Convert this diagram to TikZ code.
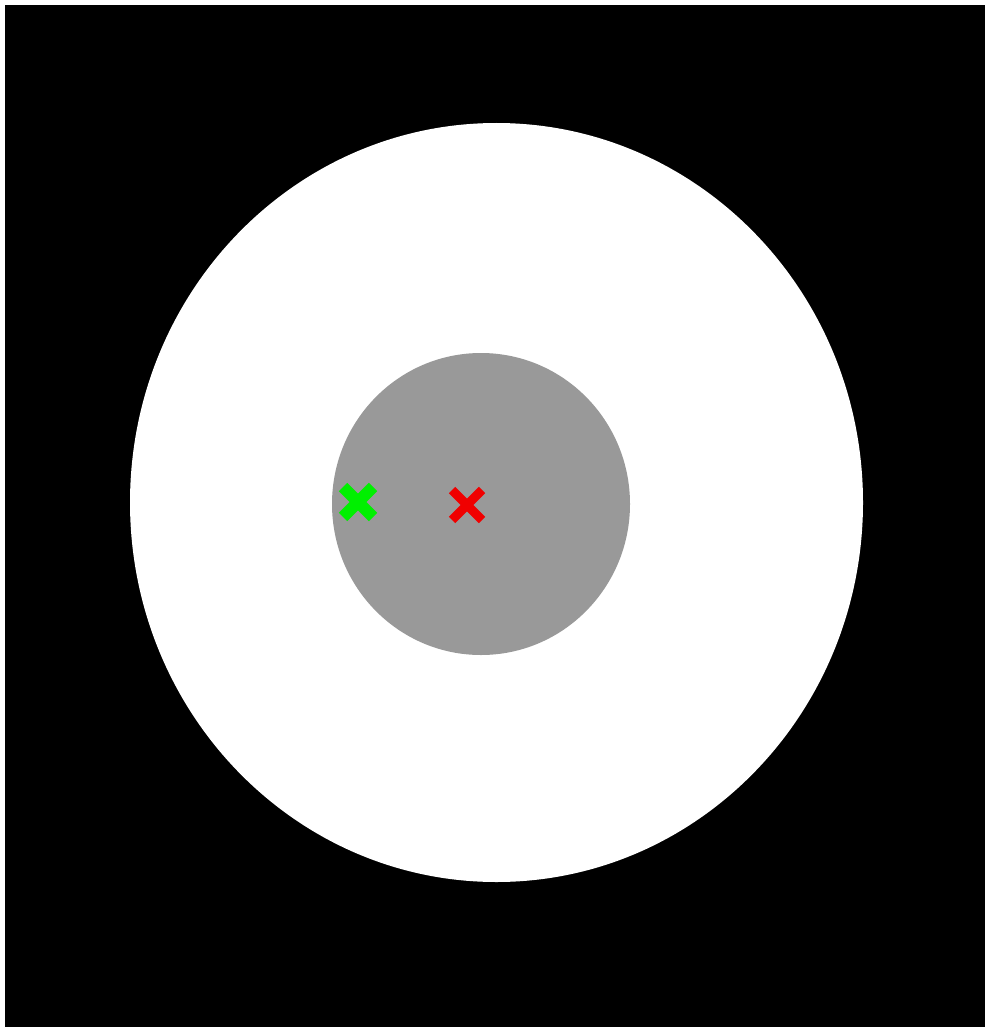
\documentclass[tikz,border=0pt]{standalone}
\usetikzlibrary{shapes.misc}
\definecolor{disk}{HTML}{999999}
\definecolor{mkgreen}{HTML}{00F000}
\definecolor{mkred}{HTML}{F00000}
\begin{document}
\begin{tikzpicture}[x=1pt,y=-1pt,
  mark/.style={cross out, draw=#1, line width=9pt, minimum size=21pt, inner sep=0pt}]
\useasboundingbox (0,0) rectangle (985,1027);
\fill[white] (0,0) rectangle (985,1027);
\fill[black] (5,5) rectangle (985,1027);
\fill[white] (496.5,502.5) ellipse [x radius=366.5, y radius=379.5];
\fill[disk] (481,504) ellipse [x radius=149, y radius=151];
\node[mark=mkgreen, line width=12pt, minimum size=18pt] (g) at (358,502) {};
\node[mark=mkred] (r) at (467,505) {};
\end{tikzpicture}
\end{document}
